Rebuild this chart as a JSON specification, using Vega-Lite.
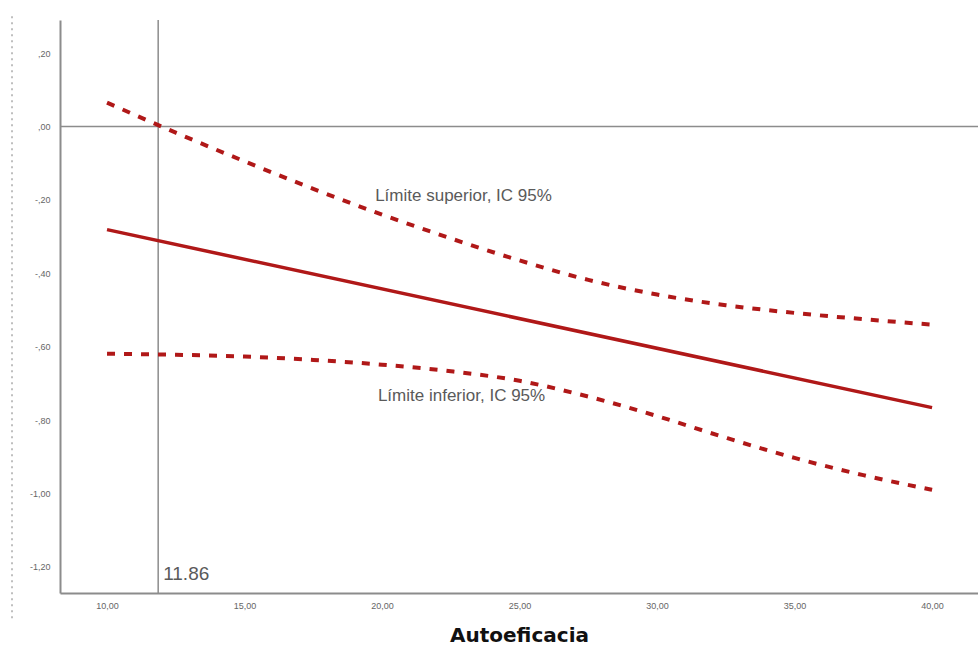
{
  "$schema": "https://vega.github.io/schema/vega-lite/v6.json",
  "width": 918,
  "height": 573,
  "autosize": {"type": "none"},
  "padding": {"left": 60, "top": 20, "right": 0, "bottom": 57},
  "background": "white",
  "config": {"view": {"stroke": null}, "font": "Liberation Sans"},
  "datasets": {
    "curves": [
      {"x": 10, "y": -0.281, "series": "estimate"},
      {"x": 40, "y": -0.766, "series": "estimate"},
      {"x": 10, "y": 0.065, "series": "upper"},
      {"x": 12.5, "y": -0.017, "series": "upper"},
      {"x": 15, "y": -0.095, "series": "upper"},
      {"x": 17.5, "y": -0.17, "series": "upper"},
      {"x": 20, "y": -0.24, "series": "upper"},
      {"x": 22.5, "y": -0.305, "series": "upper"},
      {"x": 25, "y": -0.365, "series": "upper"},
      {"x": 27.5, "y": -0.418, "series": "upper"},
      {"x": 30, "y": -0.458, "series": "upper"},
      {"x": 32.5, "y": -0.487, "series": "upper"},
      {"x": 35, "y": -0.508, "series": "upper"},
      {"x": 37.5, "y": -0.525, "series": "upper"},
      {"x": 40, "y": -0.54, "series": "upper"},
      {"x": 10, "y": -0.619, "series": "lower"},
      {"x": 12.5, "y": -0.622, "series": "lower"},
      {"x": 15, "y": -0.627, "series": "lower"},
      {"x": 17.5, "y": -0.636, "series": "lower"},
      {"x": 20, "y": -0.649, "series": "lower"},
      {"x": 22.5, "y": -0.667, "series": "lower"},
      {"x": 25, "y": -0.693, "series": "lower"},
      {"x": 27.5, "y": -0.736, "series": "lower"},
      {"x": 30, "y": -0.789, "series": "lower"},
      {"x": 32.5, "y": -0.848, "series": "lower"},
      {"x": 35, "y": -0.903, "series": "lower"},
      {"x": 37.5, "y": -0.95, "series": "lower"},
      {"x": 40, "y": -0.99, "series": "lower"}
    ],
    "labels": [
      {"x": 19.75, "y": -0.19, "text": "Límite superior, IC 95%"},
      {"x": 19.85, "y": -0.735, "text": "Límite inferior, IC 95%"}
    ],
    "cutlabel": [{"x": 12.04, "y": -1.22, "text": "11.86"}],
    "vline": [{"x": 11.86}],
    "hline": [{"y": 0}],
    "edge": [{"x": 6.545, "y": 0.3, "y2": -1.35}]
  },
  "layer": [
    {
      "data": {"name": "edge"},
      "mark": {"type": "rule", "clip": false, "color": "#aaaaaa", "strokeWidth": 1.5, "strokeDash": [2, 4]},
      "encoding": {
        "x": {"field": "x", "type": "quantitative", "scale": {"domain": [8.29, 41.67], "nice": false, "zero": false},
          "axis": {"values": [10, 15, 20, 25, 30, 35, 40], "labelExpr": "replace(format(datum.value, '.2f'), '.', ',')", "title": "Autoeficacia", "grid": false, "ticks": false, "domainColor": "#8c8c8c", "domainWidth": 2, "labelColor": "#666666", "labelFontSize": 9, "labelPadding": 8, "titleFont": "DejaVu Sans", "titleFontSize": 20, "titleFontWeight": "bold", "titleColor": "#111111", "titlePadding": 15}},
        "y": {"field": "y", "type": "quantitative", "scale": {"domain": [-1.271, 0.29], "nice": false, "zero": false},
          "axis": {"values": [0.2, 0, -0.2, -0.4, -0.6, -0.8, -1, -1.2], "labelExpr": "(datum.value < -0.001 ? '-' : '') + (abs(datum.value) >= 0.999 ? '1' : '') + ',' + slice(format(abs(datum.value), '.2f'), -2)", "title": null, "grid": false, "ticks": false, "domainColor": "#8c8c8c", "domainWidth": 2, "labelColor": "#666666", "labelFontSize": 9, "labelPadding": 10}},
        "y2": {"field": "y2"}
      }
    },
    {
      "data": {"name": "hline"},
      "mark": {"type": "rule", "color": "#8c8c8c", "strokeWidth": 1.5},
      "encoding": {"y": {"field": "y", "type": "quantitative"}}
    },
    {
      "data": {"name": "vline"},
      "mark": {"type": "rule", "color": "#8c8c8c", "strokeWidth": 1.5},
      "encoding": {"x": {"field": "x", "type": "quantitative"}}
    },
    {
      "data": {"name": "curves"},
      "transform": [{"filter": "datum.series !== 'estimate'"}],
      "mark": {"type": "line", "color": "#b01818", "strokeWidth": 4, "strokeDash": [8, 9], "interpolate": "monotone"},
      "encoding": {
        "x": {"field": "x", "type": "quantitative"},
        "y": {"field": "y", "type": "quantitative"},
        "detail": {"field": "series"}
      }
    },
    {
      "data": {"name": "curves"},
      "transform": [{"filter": "datum.series === 'estimate'"}],
      "mark": {"type": "line", "color": "#b01818", "strokeWidth": 3.5},
      "encoding": {
        "x": {"field": "x", "type": "quantitative"},
        "y": {"field": "y", "type": "quantitative"}
      }
    },
    {
      "data": {"name": "labels"},
      "mark": {"type": "text", "align": "left", "baseline": "middle", "fontSize": 17, "color": "#5a5a5a", "font": "Liberation Sans"},
      "encoding": {
        "x": {"field": "x", "type": "quantitative"},
        "y": {"field": "y", "type": "quantitative"},
        "text": {"field": "text"}
      }
    },
    {
      "data": {"name": "cutlabel"},
      "mark": {"type": "text", "align": "left", "baseline": "middle", "fontSize": 19, "color": "#5a5a5a", "font": "Liberation Sans"},
      "encoding": {
        "x": {"field": "x", "type": "quantitative"},
        "y": {"field": "y", "type": "quantitative"},
        "text": {"field": "text"}
      }
    }
  ]
}
